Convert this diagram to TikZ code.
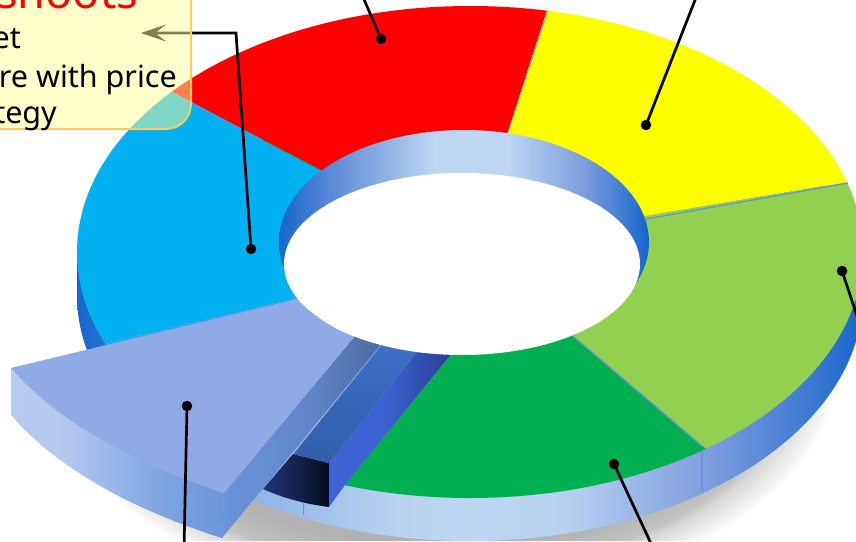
\documentclass[tikz,border=0pt]{standalone}
\usepackage{fontspec}
\setmainfont{Noto Sans}
\usetikzlibrary{arrows.meta}
\definecolor{cRed}{HTML}{FF0000}
\definecolor{cYel}{HTML}{FFFF00}
\definecolor{cLime}{HTML}{92D050}
\definecolor{cGrn}{HTML}{00B050}
\definecolor{cSky}{HTML}{00B0F0}
\definecolor{cPiece}{HTML}{8FAAE4}
\definecolor{cSeam}{HTML}{6F8FE0}
\definecolor{cBorder}{HTML}{FDC868}
\definecolor{cNote}{HTML}{FFFF99}
\pgfdeclareradialshading{softshadow}{\pgfpointorigin}{%
  color(0bp)=(black!32); color(19.5bp)=(black!30); color(22bp)=(black!24);
  color(22.75bp)=(black!15); color(24.5bp)=(black!4); color(25bp)=(white); color(50bp)=(white)}
\pgfdeclarehorizontalshading{wallshade}{100bp}{%
  rgb(0bp)=(0.08,0.40,0.80); rgb(25bp)=(0.08,0.40,0.80); rgb(36bp)=(0.55,0.70,0.90);
  rgb(45bp)=(0.72,0.82,0.94); rgb(50bp)=(0.74,0.84,0.95); rgb(56bp)=(0.72,0.82,0.94);
  rgb(65bp)=(0.50,0.62,0.87); rgb(75bp)=(0.10,0.40,0.80); rgb(100bp)=(0.10,0.40,0.80)}
\pgfdeclarehorizontalshading{rimshade}{100bp}{%
  rgb(0bp)=(0.08,0.40,0.80); rgb(25bp)=(0.08,0.40,0.80); rgb(32bp)=(0.36,0.54,0.84);
  rgb(46bp)=(0.74,0.84,0.95); rgb(56bp)=(0.74,0.84,0.95); rgb(66bp)=(0.50,0.62,0.87);
  rgb(75bp)=(0.08,0.40,0.80); rgb(100bp)=(0.08,0.40,0.80)}
\pgfdeclarehorizontalshading{frontshade}{100bp}{%
  rgb(0bp)=(0.72,0.80,0.94); rgb(25bp)=(0.72,0.80,0.94); rgb(38bp)=(0.70,0.78,0.93);
  rgb(60bp)=(0.50,0.65,0.89); rgb(75bp)=(0.42,0.58,0.86); rgb(100bp)=(0.42,0.58,0.86)}
\pgfdeclarehorizontalshading{cutshade}{100bp}{%
  rgb(0bp)=(0.42,0.58,0.86); rgb(25bp)=(0.42,0.58,0.86); rgb(50bp)=(0.38,0.52,0.78);
  rgb(75bp)=(0.27,0.39,0.60); rgb(100bp)=(0.27,0.39,0.60)}
\pgfdeclarehorizontalshading{sideshade}{100bp}{%
  rgb(0bp)=(0.24,0.39,0.83); rgb(25bp)=(0.24,0.39,0.83); rgb(44bp)=(0.24,0.39,0.83);
  rgb(75bp)=(0.13,0.21,0.48); rgb(100bp)=(0.13,0.21,0.48)}
\pgfdeclarehorizontalshading{darkshade}{100bp}{%
  rgb(0bp)=(0.13,0.21,0.48); rgb(25bp)=(0.13,0.21,0.48); rgb(75bp)=(0.02,0.05,0.12); rgb(100bp)=(0.02,0.05,0.12)}
\pgfdeclareverticalshading{floorshade}{100bp}{%
  rgb(0bp)=(0.19,0.37,0.66); rgb(25bp)=(0.19,0.37,0.66); rgb(75bp)=(0.25,0.45,0.80); rgb(100bp)=(0.25,0.45,0.80)}
\tikzset{
  dotnode/.style={circle,fill=black,inner sep=0pt,minimum size=10.5pt},
  leader/.style={draw=black,line width=2.7pt},
  seam/.style={draw=cSeam,line width=1.3pt},
  notebox/.style={draw=none,rounded corners=25pt,fill=cNote,fill opacity=.5,inner sep=0pt},
  notetext/.style={font=\fontsize{30.5}{36}\selectfont,anchor=base east,inner sep=0pt}
}
\newcommand{\discellipse}{(470,252) ellipse [x radius=393pt,y radius=246pt]}
\begin{document}
\begin{tikzpicture}[x=1pt,y=-1pt]
\useasboundingbox (0,0) rectangle (856,541);
\clip (0,0) rectangle (856,541);
% shadow
\begin{scope}
  \clip (0,430) -- (200,300) -- (856,300) -- (856,541) -- (0,541) -- cycle;
  \shade[shading=softshadow] (440,360) ellipse [x radius=400pt,y radius=240pt];
\end{scope}
% outer wall
\begin{scope}
  \clip (470,295) ellipse [x radius=393pt,y radius=246pt];
  \shade[shading=wallshade] (77,100) rectangle (863,541);
\end{scope}
\begin{scope}
  \clip (77,252) rectangle (863,295);
  \shade[shading=wallshade] (77,100) rectangle (863,541);
\end{scope}
\draw[seam] (702,446) -- (702,492);
\draw[draw=cSeam,line width=.8pt] (303,503) -- (303,515);
% top surface wedges
\begin{scope}
  \clip (464,250) -- (322,171) -- (100,54) -- (100,-50) -- (560,-30) -- (508,132) -- cycle;
  \fill[cRed] \discellipse;
\end{scope}
\begin{scope}
  \clip (464,250) -- (508,132) -- (560,-30) -- (900,-30) -- (900,176) -- (848,182) -- (645,216) -- cycle;
  \fill[cYel] \discellipse;
\end{scope}
\begin{scope}
  \clip (464,250) -- (645,216) -- (848,182) -- (900,174) -- (900,495) -- (760,495) -- (573,336) -- cycle;
  \fill[cLime] \discellipse;
\end{scope}
\begin{scope}
  \clip (464,250) -- (573,336) -- (760,495) -- (760,560) -- (300,560) -- (300,540) -- (451,355) -- cycle;
  \fill[cGrn] \discellipse;
\end{scope}
\begin{scope}
  \clip (464,250) -- (322,171) -- (100,54) -- (0,100) -- (0,372) -- (103,347) -- (297,299) -- cycle;
  \fill[cSky] \discellipse;
\end{scope}
\draw[draw=cGrn,line width=.7pt] (262,140) -- (322,171);
\draw[draw=cSeam,line width=.6pt] (508,132) -- (548,10);
\draw[draw=cSeam,line width=.5pt] (172,93) -- (262,140);
\draw[seam] (646,219) -- (848,183);
\draw[seam] (573,336) -- (702,446);
% rim
\begin{scope}
  \clip (464,242) ellipse [x radius=185pt,y radius=112pt];
  \shade[shading=rimshade] (279,120) rectangle (649,360);
\end{scope}
% gap faces
\shade[shading=darkshade] (293,454) -- (329,463) -- (329,507) .. controls (305,504) and (283,498) .. (263,489) -- cycle;
\shade[shading=floorshade] (400,322) -- (438,326) -- (329,463) -- (293,454) -- cycle;
\shade[shading=sideshade] (438,326) -- (471,330) -- (345,485) -- (329,507) -- (329,463) -- cycle;
\shade[shading=cutshade] (224,493) -- (371,317) -- (400,322) -- (222,538) -- cycle;
\draw[draw=cPiece,line width=.6pt] (381,345) -- (293,454);
% hole
\fill[white] (462,264) ellipse [x radius=178pt,y radius=91pt];
% detached piece
\shade[shading=frontshade] (11,368) -- (11,415) .. controls (60,472) and (140,512) .. (222,538) -- (224,493) .. controls (140,465) and (60,425) .. (11,368) -- cycle;
\fill[cPiece] (11,368) -- (297,299) .. controls (312,315) and (333,329) .. (354,337) -- (224,493) .. controls (140,465) and (60,425) .. (11,368) -- cycle;
\draw[draw=cSeam!70!cPiece,line width=.6pt] (105,344) -- (297,298);
% leaders
\node[dotnode] (dRed) at (381,39) {};
\node[dotnode] (dYel) at (646,125) {};
\node[dotnode] (dLime) at (842,271) {};
\node[dotnode] (dGrn) at (614,464) {};
\node[dotnode] (dSky) at (251,249) {};
\node[dotnode] (dPiece) at (187,406) {};
\coordinate (eRed) at (360,-10);
\coordinate (eYel) at (699,-10);
\coordinate (eLime) at (860,325);
\coordinate (eGrn) at (654,550);
\coordinate (ePiece) at (184,550);
\coordinate (bend) at (236,33);
\coordinate (tipNote) at (141,33);
\draw[leader] (dRed.center) -- (eRed);
\draw[leader] (dYel.center) -- (eYel);
\draw[leader] (dLime.center) -- (eLime);
\draw[leader] (dGrn.center) -- (eGrn);
\draw[leader] (dPiece.center) -- (ePiece);
\draw[leader,-{Stealth[length=25pt,width=17pt,inset=11pt]}] (dSky.center) -- (bend) -- (tipNote);
% callout
\node[notebox,minimum width=291pt,minimum height=199pt] (note) at (45.5,29.5) {};
\draw[draw=cBorder,line width=2pt,rounded corners=25pt] (-100,-70) rectangle (191,129);
\node[notetext,text=red,font=\fontsize{45}{48}\selectfont] (t0) at (138,8) {shoots};
\node[notetext] (t1) at (21,48) {et};
\node[notetext] (t2) at (177,87) {re with price};
\node[notetext] (t3) at (57,123) {tegy};
\end{tikzpicture}
\end{document}
